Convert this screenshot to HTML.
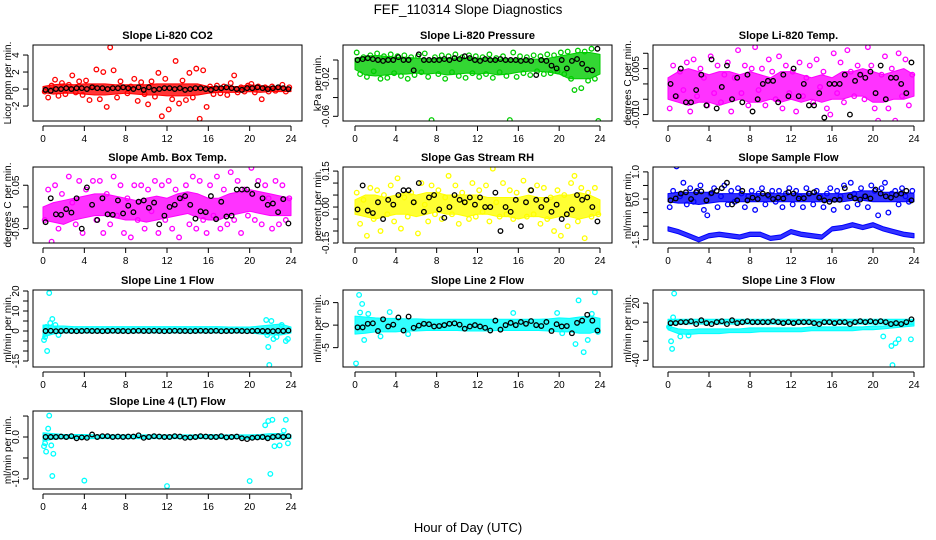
<!DOCTYPE html>
<html><head><meta charset="utf-8">
<style>
html,body{margin:0;padding:0;background:#fff;}
svg{display:block;font-family:"Liberation Sans",Arial,sans-serif;}
</style></head>
<body>
<svg id="chart" width="936" height="540" viewBox="0 0 936 540">
<text x="468" y="14" text-anchor="middle" font-size="13.5">FEF_110314  Slope Diagnostics</text>
<text x="468" y="532" text-anchor="middle" font-size="13">Hour of Day (UTC)</text>
</svg>
<script>
// ---------- data ----------
const xTicks = [0,4,8,12,16,20,24];

const co2BandLo = [-0.4,-0.6,-0.5,-0.5,-0.6,-0.7,-0.7,-0.6,-0.5,-0.6,-0.7,-0.7,-0.8,-0.8,-0.8,-0.7,-0.5,-0.4,-0.4,-0.4,-0.3,-0.4,-0.3,-0.3,-0.3];
const co2BandHi = [0.3,0.5,0.6,0.5,0.6,0.6,0.6,0.5,0.5,0.5,0.5,0.6,0.6,0.6,0.6,0.6,0.3,0.3,0.3,0.3,0.5,0.4,0.3,0.3,0.2];
const co2Vals = [-0.3,-1.0,0.4, 1.1,-0.8,0.7, -0.6,0.5,1.6, -0.4,0.9,-0.7, 1.0,-1.3,0.3, 2.3,-1.2,2.0, -2.1,4.9,2.2, -1.0,0.9,0.2, -0.5,0.3,1.2, -1.4,0.8,-0.6, -1.8,0.9,-0.9, 1.9,-3.2,1.2, -2.4,-1.2,3.3, -1.7,1.0,-1.3, 1.9,-1.0,2.4, -3.5,2.2,-2.1, 0.3,-0.6,0.4, -0.5,0.3,-0.7, 0.7,1.6,-0.4, 0.2,-0.3,0.4, 0.6,-0.4,0.3, -1.2,0.2,-0.3, 0.3,-0.2,0.2, 0.5,-0.3,0.2];
const co2Black = [-0.1,-0.2,0,0,0.1,0,0.1,0.1,0,0.2,0.1,0.1,0,0.1,0.1,0.2,0.1,0,0.2,-0.1,0.2,-0.1,0,0.1,0.1,0,0.1,-0.1,0,0.1,0.1,0,-0.1,0.1,0.1,0.2,0.1,0,-0.1,0.1,0.1,0.2,0.1,0,0.1,0.2,0.1,0];

const presBandLo = [-0.01,-0.016,-0.017,-0.016,-0.015,-0.015,-0.014,-0.015,-0.014,-0.016,-0.015,-0.014,-0.015,-0.014,-0.016,-0.015,-0.013,-0.012,-0.012,-0.013,-0.015,-0.02,-0.02,-0.02,-0.015];
const presBandHi = [0.002,0.004,0.005,0.004,0.003,0.003,0.002,0.001,0.001,0.002,0.002,0.002,0.002,0.002,0.001,0.001,0.001,0.001,0.001,0.002,0.004,0.006,0.008,0.008,0.006];
const presVals = [0.008,-0.015,0.003,-0.018,0.005,-0.012,0.007,-0.02,0.004,-0.019,0.006,-0.014,0.004,-0.017,0.005,-0.02,0.003,-0.016,0.004,-0.013,0.007,-0.018,-0.064,0.003,-0.015,0.005,-0.02,0.004,-0.013,0.006,-0.017,0.003,-0.019,0.005,-0.014,0.004,-0.018,0.003,-0.015,0.006,-0.019,0.002,-0.013,0.004,-0.017,-0.064,0.008,-0.018,0.004,-0.014,0.003,-0.016,0.005,-0.012,0.004,-0.015,0.006,-0.014,0.005,-0.012,0.008,-0.015,0.009,-0.02,-0.032,0.01,-0.03,0.009,-0.022,0.012,-0.02,-0.065];
const presBlack = [0,0.001,0.002,0.001,0,-0.001,0,0,0.003,0,0,-0.011,0.006,0,0,0,0,0.001,0,0.002,0.001,0.004,0.002,0,-0.001,0.001,0,0,0.001,0,0,0,-0.001,0,-0.001,-0.016,0,-0.001,-0.006,-0.009,0,-0.009,-0.001,0.001,-0.004,-0.01,-0.011,0.012];

const tempBandLo = [-0.005,-0.006,-0.007,-0.006,-0.006,-0.007,-0.006,-0.005,-0.006,-0.006,-0.005,-0.006,-0.005,-0.006,-0.005,-0.006,-0.005,-0.005,-0.004,-0.004,-0.006,-0.006,-0.005,-0.005,-0.004];
const tempBandHi = [0.002,0.004,0.005,0.004,0.003,0.004,0.004,0.003,0.004,0.003,0.002,0.004,0.004,0.003,0.002,0.003,0.002,0.004,0.004,0.005,0.004,0.003,0.004,0.005,0.003];
const tempVals = [-0.008,0.006,-0.004,0.004,-0.002,0.007,-0.009,0.008,-0.004,0.005,0.002,-0.007,0.009,-0.003,0.006,-0.006,0.003,0.007,-0.009,0.002,0.011,-0.003,0.006,-0.007,0.005,0.012,-0.002,0.005,-0.007,0.008,0.004,-0.005,0.009,-0.008,0.006,-0.003,0.004,-0.009,0.007,-0.004,0.002,0.006,-0.006,0.008,-0.001,0.004,-0.008,-0.010,0.010,-0.003,0.007,-0.006,0.011,0.004,-0.004,0.006,0.003,-0.005,0.012,0.006,-0.008,-0.012,0.003,0.009,-0.008,0.005,-0.012,0.010,-0.004,0.008,-0.007,0.003];
const tempBlack = [0,-0.004,0.005,-0.006,-0.006,-0.002,0.003,-0.007,0.008,-0.008,-0.001,0.006,-0.005,0.002,-0.006,0.003,-0.009,-0.005,0,0.001,0.001,-0.006,0.003,-0.004,0.005,-0.004,0,-0.007,-0.007,-0.003,-0.011,0,0,0,0.003,-0.010,0.001,0.003,0.002,0.004,-0.003,0.006,-0.005,0.002,0.002,0,-0.003,0.007];

const ambBandLo = [-0.03,-0.035,-0.04,-0.03,-0.025,-0.02,-0.02,-0.025,-0.03,-0.03,-0.035,-0.03,-0.025,-0.02,-0.015,-0.025,-0.03,-0.03,-0.02,-0.015,-0.01,-0.015,-0.02,-0.02,-0.02];
const ambBandHi = [0,0.01,0.015,0.02,0.025,0.03,0.03,0.025,0.02,0.015,0.02,0.025,0.02,0.03,0.035,0.03,0.02,0.02,0.03,0.035,0.04,0.035,0.03,0.025,0.02];
const ambVals = [-0.03,0.04,-0.08,0.05,-0.05,0.03,-0.09,0.07,0.01,-0.04,0.06,-0.06,0.04,-0.09,0.06,-0.03,0.06,-0.06,0.03,-0.04,0.07,-0.02,0.05,-0.06,0.02,-0.07,0.05,-0.03,0.05,-0.05,0.04,-0.01,0.06,-0.06,0.05,-0.03,0.06,-0.05,0.04,-0.07,0.02,0.05,-0.04,0.07,-0.05,0.06,-0.03,-0.06,0.05,-0.02,0.07,-0.05,0.04,-0.04,0.08,-0.03,0.06,-0.06,0.04,-0.02,0.09,-0.03,0.06,-0.04,0.05,0.02,-0.05,0.06,-0.04,0.05,-0.03,0.02];
const ambBlack = [-0.035,0.02,-0.017,-0.018,-0.005,-0.013,0.02,-0.05,0.045,0.005,-0.03,0.02,-0.017,-0.018,0.015,-0.015,0.003,-0.012,0.012,0.015,-0.002,0.01,-0.04,-0.02,0,0.005,0.02,0.025,0.005,-0.027,-0.01,-0.012,0.025,-0.028,0.012,-0.022,-0.02,0.04,0.04,0.04,0.03,0.05,0.02,0.005,0.008,-0.012,0.018,-0.038];

const rhBandLo = [-0.03,-0.04,-0.05,-0.04,-0.03,-0.03,-0.04,-0.03,-0.02,-0.03,-0.03,-0.04,-0.03,-0.03,-0.04,-0.04,-0.05,-0.04,-0.04,-0.05,-0.04,-0.04,-0.05,-0.04,-0.03];
const rhBandHi = [0.03,0.05,0.05,0.04,0.05,0.06,0.05,0.06,0.06,0.05,0.05,0.05,0.05,0.04,0.04,0.04,0.04,0.05,0.04,0.04,0.05,0.05,0.06,0.05,0.03];
const rhVals = [0.06,-0.07,0.03,-0.12,0.08,-0.05,0.07,-0.10,0.05,-0.03,0.09,-0.06,0.12,-0.09,0.04,-0.04,0.06,0.02,-0.11,0.10,0.01,-0.06,0.09,-0.03,0.07,-0.05,0.04,0.13,-0.03,0.09,-0.07,0.06,0.02,-0.05,0.10,-0.04,0.07,-0.02,0.09,-0.06,0.16,0.02,-0.04,0.10,-0.03,0.07,-0.05,0.06,-0.16,0.11,-0.04,0.07,-0.03,0.09,-0.07,0.08,-0.05,0.04,-0.10,0.07,-0.12,0.05,-0.08,0.10,0.13,-0.06,0.08,-0.13,0.06,-0.04,0.08,-0.03];
const rhBlack = [-0.01,0.09,-0.015,-0.025,0.02,-0.05,0.03,0.01,0.05,0.07,0.07,0.02,0.1,-0.02,0.04,0.05,-0.01,-0.045,0,0.05,0.03,0.02,0.04,0.01,0.04,0,0,0.06,-0.1,0,-0.02,0.03,-0.08,0.02,0.07,0.03,0,0.03,-0.02,0.01,-0.05,-0.03,-0.01,0.05,0.03,0.04,0,-0.06];

const flowBandLo = [-0.1,-0.15,-0.15,-0.2,-0.15,-0.1,-0.1,-0.1,-0.1,-0.1,-0.1,-0.1,-0.1,-0.1,-0.1,-0.1,-0.1,-0.1,-0.05,-0.05,-0.1,-0.1,-0.1,-0.1,-0.1];
const flowBandHi = [0.2,0.25,0.25,0.25,0.25,0.2,0.2,0.2,0.2,0.2,0.2,0.2,0.2,0.2,0.2,0.2,0.2,0.2,0.25,0.3,0.3,0.25,0.25,0.25,0.2];
const flowBand2Lo = [-1.18,-1.28,-1.43,-1.58,-1.43,-1.38,-1.43,-1.48,-1.38,-1.38,-1.53,-1.48,-1.28,-1.38,-1.43,-1.48,-1.18,-1.13,-1.03,-1.13,-1.03,-1.18,-1.28,-1.38,-1.43];
const flowBand2Hi = [-1.02,-1.12,-1.27,-1.42,-1.27,-1.22,-1.27,-1.32,-1.22,-1.22,-1.37,-1.32,-1.12,-1.22,-1.27,-1.32,-1.02,-0.97,-0.87,-0.97,-0.87,-1.02,-1.12,-1.22,-1.27];
const flowVals = [-0.3,0.3,1.2,0.1,0.6,-0.2,0.4,-0.1,0.3,0.5,-0.4,-0.6,0.2,0.4,-0.3,0.1,0.5,-0.2,0.3,-0.1,0.4,0.2,-0.3,0.1,0.3,-0.4,0.2,0.4,-0.2,0.1,0.3,-0.1,0.3,-0.3,0.2,0.4,-0.2,0.3,0.1,-0.3,0.4,0.2,-0.2,0.3,0.1,-0.3,0.2,0.4,-0.4,0.3,0.1,0.5,-0.3,0.6,0.2,-0.2,0.4,0.1,-0.3,0.5,0.3,-0.6,0.4,0.6,-0.5,0.2,0.3,-0.2,0.4,0.1,-0.1,0.3];
const flowBlack = [-0.05,0.02,0.2,0.25,0,0.25,0.28,-0.05,0.22,0.3,0.4,0.6,-0.2,-0.05,0.3,-0.05,0.05,0,0.2,0.15,0,0.05,0.02,0.25,0.2,0.02,0.03,0.2,0.25,0.05,-0.05,-0.1,-0.03,-0.03,0.4,0.1,0.02,-0.02,0.1,0.02,0.35,0.2,0.1,0.05,0.15,0.2,0.3,-0.05];

const l1BandLo = [-3,-1.5,-1,-1,-1,-1,-1,-1,-1,-1,-1,-1,-1,-1,-1,-1,-1,-1,-1,-1,-1,-1.5,-2,-2,-1];
const l1BandHi = [3,2.5,2.5,2.2,2.2,2.2,2.2,2.2,2.2,2.2,2.2,2.2,2.2,2.2,2.2,2.2,2.2,2.2,2,2,2,2.5,3,3.5,2];
const l1OutHours = [0.1,0.2,0.3,0.4,0.6,0.7,0.9,1.2,1.5,21.6,21.7,21.8,21.9,22.1,22.3,22.6,23.1,23.5,23.7];
const l1OutVals = [-4.5,-3,2,-10,19,4,6,3,-2,5.5,-2,-8,-17,5,-4,-3,3,-5,-4];
const l1Black = [0,0.1,-0.1,0,0.1,0,-0.1,0,0.1,0,0,-0.1,0,0.1,0,0,-0.1,0,0.1,0,0,0.1,0,-0.1,0,0.1,0,0,-0.1,0,0.1,0,0,0.1,-0.1,0,0,0.1,0,-0.1,0,0.1,0,0,-0.1,0.1,0,0.2];

const l2BandLo = [-2,-1.8,-1.5,-1.5,-1.5,-1.3,-1.3,-1.2,-1.2,-1.2,-1.2,-1.3,-1.3,-1.3,-1.2,-1.2,-1.2,-1.2,-1.2,-1.3,-1.5,-1.5,-1.8,-1.8,-1.2];
const l2BandHi = [2,1.8,1.6,1.5,1.5,1.4,1.4,1.3,1.3,1.3,1.3,1.3,1.3,1.3,1.3,1.3,1.3,1.3,1.3,1.4,1.6,1.5,1.8,2,1.5];
const l2OutHours = [0.1,0.4,0.5,0.7,0.9,1.3,2.5,3.4,5.2,15.5,19.8,20.3,21.6,21.9,22.4,22.8,23.2,23.5,23.8];
const l2OutVals = [-8.5,6.7,2.8,4.7,-3.3,2.5,-2.5,2.9,-2,2.7,2.7,-1.8,-4.2,5.5,-6,-3.3,2.5,7.3,-1.5];
const l2Black = [-0.5,-0.5,0.3,0.4,-1.3,1.3,-0.3,0.1,1.7,-1.2,1.9,-0.6,-0.1,0.3,0.2,-0.3,-0.2,0,0.3,0.4,0.1,-0.8,-0.3,0,-0.3,-0.6,-1.2,1,-1.0,0,0.5,0,0.7,0.3,0.9,0,-0.2,0.7,-1.3,0.2,-0.3,-0.2,-1.8,0.5,1.0,2.3,1.0,-1.2];

const l3BandLo = [-3,-2,-2,-2,-2,-2,-2,-2,-2,-2,-2,-2,-2,-2,-2,-2,-2,-2,-2,-2,-2,-2,-2,-2,-2];
const l3BandHi = [3,3,3,3,3,3,3,3,3,3,3,3,3,3,3,3,3,3,3,3,3,3,3,3,3];
const l3Band2Lo = [-8,-12,-13,-12,-12,-12,-11,-11,-11,-10,-10,-10,-10,-10,-9,-9,-9,-9,-9,-8,-8,-7,-6,-5,-4];
const l3Band2Hi = [-4,-7,-8,-7,-7,-7,-7,-7,-6,-6,-6,-6,-6,-6,-5,-5,-5,-5,-5,-5,-4,-4,-3,-3,-2];
const l3OutHours = [0.1,0.3,0.4,0.5,0.6,1.2,2,21,21.8,21.9,22.2,22.5,23.7];
const l3OutVals = [-5,-20,-28,5,30,-15,-14,-15,-25,-45,-22,-18,-18];
const l3Black = [-1,-1,0,0,1,-2,2,-1,-2,0,1,-2,2,-1,0,1,0,0,0,0,1,0,-1,0,-1,0,0,0,-1,-2,0,0,-1,0,0,-2,0,1,0,1,0,1,0,-2,-1,-2,0,3];

const l4BandLo = [-0.1,-0.05,-0.04,-0.04,-0.04,-0.04,-0.04,-0.04,-0.04,-0.04,-0.04,-0.04,-0.04,-0.04,-0.04,-0.04,-0.04,-0.04,-0.04,-0.04,-0.05,-0.05,-0.05,-0.05,-0.04];
const l4BandHi = [0.1,0.08,0.06,0.06,0.06,0.05,0.05,0.05,0.05,0.05,0.05,0.05,0.05,0.05,0.05,0.05,0.06,0.05,0.05,0.05,0.05,0.06,0.08,0.08,0.05];
const l4OutHours = [0.1,0.2,0.3,0.5,0.6,0.8,0.9,1.0,4,12,20,21.5,21.8,22,22.2,22.4,22.9,23.3,23.5,23.7];
const l4OutVals = [-0.22,-0.15,-0.35,0.2,0.51,-0.2,-0.93,-0.4,-1.04,-1.17,-1.05,0.28,0.38,-0.88,0.41,-0.22,-0.2,0.15,0.41,-0.15];
const l4Black = [0,0,0,0.01,0,0.02,-0.03,-0.01,-0.02,0.06,0,0.02,0.02,0,0.01,0,0.01,0.01,0.04,-0.02,0,0.02,0.01,0,0,0.02,0.01,-0.02,-0.01,0,0.02,0.01,0,0,0.02,-0.01,0,0.01,-0.03,-0.05,-0.02,-0.01,0,-0.03,0,0.02,0,0.02];

// ---------- layout ----------
const colX0 = [43,355,668], colX24 = [291,600,914];
const boxL = [33,343,653], boxR = [302,612,924];
const rowT = [45,167,290,411], rowB = [121,243,367,489];

const panels = [
 {name:'co2',title:'Slope Li-820 CO2',ylab:'Licor ppm per min.',col:0,row:0,color:'#ff0000',ymin:-3.76,ymax:5.18,ticks:[-2,0,2,4],labels:['-2','0','2','4'],lo:co2BandLo,hi:co2BandHi,vals:co2Vals,black:co2Black},
 {name:'pressure',title:'Slope Li-820 Pressure',ylab:'kPa per min.',col:1,row:0,color:'#00cd00',ymin:-0.065,ymax:0.016,ticks:[-0.06,-0.04,-0.02,0],labels:['-0.06','','-0.02',''],lo:presBandLo,hi:presBandHi,vals:presVals,black:presBlack},
 {name:'temp',title:'Slope Li-820 Temp.',ylab:'degrees C per min.',col:2,row:0,color:'#ff00ff',ymin:-0.0121,ymax:0.0127,ticks:[-0.01,-0.005,0,0.005,0.01],labels:['-0.010','','','0.005',''],lo:tempBandLo,hi:tempBandHi,vals:tempVals,black:tempBlack},
 {name:'amb-box-temp',title:'Slope Amb. Box Temp.',ylab:'degrees C per min.',col:0,row:1,color:'#ff00ff',ymin:-0.083,ymax:0.092,ticks:[-0.05,0,0.05],labels:['-0.05','','0.05'],lo:ambBandLo,hi:ambBandHi,vals:ambVals,black:ambBlack},
 {name:'gas-stream-rh',title:'Slope Gas Stream RH',ylab:'percent per min.',col:1,row:1,color:'#ffff00',ymin:-0.15,ymax:0.167,ticks:[-0.15,-0.1,-0.05,0,0.05,0.1,0.15],labels:['-0.15','','','0.00','','','0.15'],lo:rhBandLo,hi:rhBandHi,vals:rhVals,black:rhBlack},
 {name:'sample-flow',title:'Slope Sample Flow',ylab:'ml/min per min.',col:2,row:1,color:'#0000ff',ymin:-1.62,ymax:1.18,ticks:[-1.5,-1,-0.5,0,0.5,1],labels:['-1.5','','','0.0','','1.0'],lo:flowBandLo,hi:flowBandHi,lo2:flowBand2Lo,hi2:flowBand2Hi,vals:flowVals,black:flowBlack},
 {name:'line1-flow',title:'Slope Line 1 Flow',ylab:'ml/min per min.',col:0,row:2,color:'#00ffff',ymin:-18,ymax:20.5,ticks:[-15,-10,-5,0,5,10,15,20],labels:['-15','','','0','','10','','20'],lo:l1BandLo,hi:l1BandHi,oh:l1OutHours,ov:l1OutVals,black:l1Black},
 {name:'line2-flow',title:'Slope Line 2 Flow',ylab:'ml/min per min.',col:1,row:2,color:'#00ffff',ymin:-9.3,ymax:7.8,ticks:[-5,0,5],labels:['-5','0','5'],lo:l2BandLo,hi:l2BandHi,oh:l2OutHours,ov:l2OutVals,black:l2Black},
 {name:'line3-flow',title:'Slope Line 3 Flow',ylab:'ml/min per min.',col:2,row:2,color:'#00ffff',ymin:-47,ymax:33.7,ticks:[-40,-20,0,20],labels:['-40','','0','20'],lo:l3BandLo,hi:l3BandHi,lo2:l3Band2Lo,hi2:l3Band2Hi,oh:l3OutHours,ov:l3OutVals,black:l3Black},
 {name:'line4-flow',title:'Slope Line 4 (LT) Flow',ylab:'ml/min per min.',col:0,row:3,color:'#00ffff',ymin:-1.24,ymax:0.62,ticks:[-1,-0.5,0,0.5],labels:['-1.0','','0.0',''],lo:l4BandLo,hi:l4BandHi,oh:l4OutHours,ov:l4OutVals,black:l4Black}
];

const NS='http://www.w3.org/2000/svg';
const svg=document.getElementById('chart');
function mk(tag,attrs,parent){const e=document.createElementNS(NS,tag);for(const k in attrs)e.setAttribute(k,attrs[k]);(parent||svg).appendChild(e);return e;}

panels.forEach(p=>{
  const g=mk('g',{});
  
  
  const L=boxL[p.col],R=boxR[p.col],T=rowT[p.row],B=rowB[p.row];
  const x0=colX0[p.col],x24=colX24[p.col];
  const xs=h=>x0+(x24-x0)*h/24;
  const ys=v=>B-(v-p.ymin)/(p.ymax-p.ymin)*(B-T);
  const clip=mk('clipPath',{id:'clip-'+p.name},g);
  mk('rect',{x:L,y:T,width:R-L,height:B-T},clip);
  const plot=mk('g',{'clip-path':'url(#clip-'+p.name+')'},g);
  function band(lo,hi,nm){
    let pts=[];
    hi.forEach((v,i)=>pts.push(xs(i)+','+ys(v)));
    for(let i=lo.length-1;i>=0;i--)pts.push(xs(i)+','+ys(lo[i]));
    const poly=mk('polygon',{points:pts.join(' '),fill:p.color,'fill-opacity':0.8,stroke:p.color,'stroke-width':1,'stroke-linejoin':'round'},plot);
    
    
  }
  band(p.lo,p.hi,'dense-band');
  if(p.lo2) band(p.lo2,p.hi2,'dense-band-lower');
  if(p.vals){
    p.vals.forEach((v,i)=>{
      const c=mk('circle',{cx:xs((i+0.5)*24/p.vals.length),cy:ys(v),r:2.3,fill:'none',stroke:p.color,'stroke-width':1.3},plot);
      
      
    });
  }
  if(p.oh){
    p.oh.forEach((h,i)=>{
      const c=mk('circle',{cx:xs(h),cy:ys(p.ov[i]),r:2.3,fill:'none',stroke:p.color,'stroke-width':1.3},plot);
      
      
    });
  }
  p.black.forEach((v,i)=>{
    const c=mk('circle',{cx:xs((i+0.5)*0.5),cy:ys(v),r:2.3,fill:'none',stroke:'#000','stroke-width':1.3},plot);
    
    
  });
  const box=mk('rect',{x:L,y:T,width:R-L,height:B-T,fill:'none',stroke:'#000','stroke-width':1},g);
  
  
  const t=mk('text',{x:(L+R)/2,y:T-6,'text-anchor':'middle','font-size':11,'font-weight':'bold'},g);
  t.textContent=p.title;
  
  
  // x axis
  mk('line',{x1:xs(0),x2:xs(24),y1:B+5,y2:B+5,stroke:'#000'},g);
  xTicks.forEach(h=>{
    mk('line',{x1:xs(h),x2:xs(h),y1:B+5,y2:B+10,stroke:'#000'},g);
    const tl=mk('text',{x:xs(h),y:B+21,'text-anchor':'middle','font-size':10},g);
    tl.textContent=h;
    
    
  });
  // y axis
  const ax=L-5;
  mk('line',{x1:ax,x2:ax,y1:ys(p.ticks[0]),y2:ys(p.ticks[p.ticks.length-1]),stroke:'#000'},g);
  p.ticks.forEach((v,i)=>{
    mk('line',{x1:ax-5,x2:ax,y1:ys(v),y2:ys(v),stroke:'#000'},g);
    if(p.labels[i]){
      const yl=mk('text',{x:0,y:0,'text-anchor':'middle','font-size':10,transform:'translate('+(ax-9)+','+ys(v)+') rotate(-90)'},g);
      yl.textContent=p.labels[i];
      
      
    }
  });
  const yt=mk('text',{x:0,y:0,'text-anchor':'middle','font-size':10,transform:'translate('+(L-22)+','+((T+B)/2)+') rotate(-90)'},g);
  yt.textContent=p.ylab;
  
  
});
</script>
</body></html>
